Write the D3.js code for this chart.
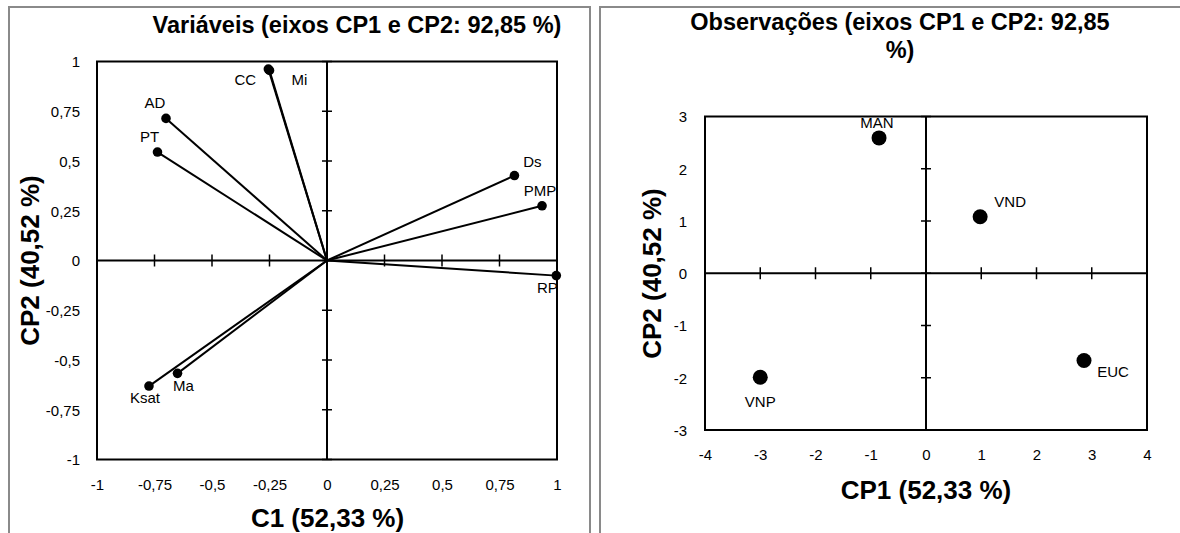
<!DOCTYPE html>
<html>
<head>
<meta charset="utf-8">
<script src="https://cdn.jsdelivr.net/npm/d3@7"></script>
<style>
  body { margin: 0; background: #fff; }
</style>
</head>
<body>
<script>
const WIDTH = 1180;
const HEIGHT = 533;

// variaveis: cargas em CP1 e CP2
const varNames = ["CC", "Mi", "AD", "PT", "Ds", "PMP", "RP", "Ksat", "Ma"];
const varCP1 = [-0.255, -0.25, -0.70, -0.737, 0.815, 0.935, 0.997, -0.774, -0.65];
const varCP2 = [0.962, 0.955, 0.714, 0.545, 0.427, 0.275, -0.076, -0.631, -0.567];

// observacoes: escores em CP1 e CP2
const obsNames = ["MAN", "VND", "EUC", "VNP"];
const obsCP1 = [-0.85, 0.98, 2.86, -3.0];
const obsCP2 = [2.59, 1.08, -1.67, -1.99];

const varTicks = [-1, -0.75, -0.5, -0.25, 0, 0.25, 0.5, 0.75, 1];
const obsTicksX = [-4, -3, -2, -1, 0, 1, 2, 3, 4];
const obsTicksY = [-3, -2, -1, 0, 1, 2, 3];

// where each point label sits, relative to its point (text baseline)
const varLabelOffset = {
    CC: [-23, 16], Mi: [30, 15], AD: [-11, -10], PT: [-8, -10], Ds: [18, -9],
    PMP: [-2, -10], RP: [-9, 17], Ksat: [-4, 17], Ma: [6, 18]
};
const obsLabelOffset = { MAN: [-2, -10], VND: [30, -10], EUC: [29, 16], VNP: [0, 30] };

const locale = d3.formatLocale({ decimal: ",", thousands: ".", grouping: [3], currency: ["", ""], minus: "-" });
const fmt = locale.format("~g");

const LABEL_FONT = "'Liberation Sans', Arial, sans-serif";

const svg = d3.select("body").append("svg")
    .attr("width", WIDTH)
    .attr("height", HEIGHT)
    .style("display", "block");

svg.append("rect").attr("width", WIDTH).attr("height", HEIGHT).attr("fill", "#fff");

function panel(o) {
    const g = svg.append("g");

    // chart frame (grey, runs off the picture at the bottom)
    g.append("rect")
        .attr("x", o.frame[0]).attr("y", o.frame[1])
        .attr("width", o.frame[2]).attr("height", o.frame[3])
        .attr("fill", "none").attr("stroke", "#8a8a8a").attr("stroke-width", 2);

    const x = d3.scaleLinear().domain(o.xDomain).range(o.xRange);
    const y = d3.scaleLinear().domain(o.yDomain).range(o.yRange);

    const clipId = "clip-" + o.id;
    g.append("clipPath").attr("id", clipId)
        .append("rect")
        .attr("x", o.xRange[0]).attr("y", o.yRange[1])
        .attr("width", o.xRange[1] - o.xRange[0])
        .attr("height", o.yRange[0] - o.yRange[1]);

    // plot box
    g.append("rect")
        .attr("x", o.xRange[0]).attr("y", o.yRange[1])
        .attr("width", o.xRange[1] - o.xRange[0])
        .attr("height", o.yRange[0] - o.yRange[1])
        .attr("fill", "none").attr("stroke", "#000").attr("stroke-width", 2);

    // axes through the origin
    g.append("line")
        .attr("x1", o.xRange[0]).attr("x2", o.xRange[1])
        .attr("y1", y(0)).attr("y2", y(0))
        .attr("stroke", "#000").attr("stroke-width", 2);
    g.append("line")
        .attr("x1", x(0)).attr("x2", x(0))
        .attr("y1", o.yRange[0]).attr("y2", o.yRange[1])
        .attr("stroke", "#000").attr("stroke-width", 2);

    // cross ticks on the origin axes
    g.append("g").selectAll("line").data(o.xTicks).join("line")
        .attr("x1", d => x(d)).attr("x2", d => x(d))
        .attr("y1", y(0) - 6).attr("y2", y(0) + 6)
        .attr("stroke", "#000").attr("stroke-width", 1.5);
    g.append("g").selectAll("line").data(o.yTicks).join("line")
        .attr("x1", x(0) - 5).attr("x2", x(0) + 5)
        .attr("y1", d => y(d)).attr("y2", d => y(d))
        .attr("stroke", "#000").attr("stroke-width", 1.5);

    // tick labels
    const ax = g.append("g")
        .attr("transform", `translate(0,${o.xLabelY})`)
        .call(d3.axisBottom(x).tickValues(o.xTicks).tickFormat(fmt).tickSize(0));
    ax.select(".domain").remove();
    ax.selectAll("text").attr("y", 0).attr("dy", 0);

    const ay = g.append("g")
        .attr("transform", `translate(${o.yLabelX},0)`)
        .call(d3.axisLeft(y).tickValues(o.yTicks).tickFormat(fmt).tickSize(0).tickPadding(0));
    ay.select(".domain").remove();
    ay.selectAll("text").attr("dy", "0.36em");

    [ax, ay].forEach(a => a.attr("font-family", LABEL_FONT).attr("font-size", 15)
        .selectAll("text").attr("fill", "#000"));

    // data
    const pts = o.names.map((n, i) => ({ name: n, cx: o.cx[i], cy: o.cy[i] }));

    if (o.vectors) {
        g.append("g").selectAll("line").data(pts).join("line")
            .attr("x1", x(0)).attr("y1", y(0))
            .attr("x2", d => x(d.cx)).attr("y2", d => y(d.cy))
            .attr("stroke", "#000").attr("stroke-width", 2);
    }

    g.append("g").selectAll("circle").data(pts).join("circle")
        .attr("cx", d => x(d.cx)).attr("cy", d => y(d.cy))
        .attr("r", o.r).attr("fill", "#000");

    g.append("g").attr("clip-path", `url(#${clipId})`)
        .selectAll("text").data(pts).join("text")
        .attr("x", d => x(d.cx) + o.offsets[d.name][0])
        .attr("y", d => y(d.cy) + o.offsets[d.name][1])
        .attr("text-anchor", "middle")
        .attr("font-family", LABEL_FONT).attr("font-size", 15)
        .text(d => d.name);

    // titles
    const title = g.append("text")
        .attr("text-anchor", "middle")
        .attr("font-family", "'Liberation Sans', Arial, sans-serif")
        .attr("font-weight", "bold").attr("font-size", 23.5);
    o.title.forEach((t, i) => {
        title.append("tspan").attr("x", o.titlePos[0]).attr("y", o.titlePos[1] + i * 28).text(t);
    });

    g.append("text")
        .attr("x", o.xTitlePos[0]).attr("y", o.xTitlePos[1])
        .attr("text-anchor", "middle")
        .attr("font-family", "'Liberation Sans', Arial, sans-serif")
        .attr("font-weight", "bold").attr("font-size", 26)
        .text(o.xTitle);

    g.append("text")
        .attr("transform", `translate(${o.yTitlePos[0]},${o.yTitlePos[1]}) rotate(-90)`)
        .attr("text-anchor", "middle")
        .attr("font-family", "'Liberation Sans', Arial, sans-serif")
        .attr("font-weight", "bold").attr("font-size", 26)
        .text(o.yTitle);
}

panel({
    id: "var",
    frame: [9, 7, 581, 600],
    xDomain: [-1, 1], xRange: [97, 557],
    yDomain: [-1, 1], yRange: [459.5, 61.5],
    xTicks: varTicks, yTicks: varTicks,
    xLabelY: 490, yLabelX: 80,
    names: varNames, cx: varCP1, cy: varCP2,
    vectors: true, r: 4.8, offsets: varLabelOffset,
    title: ["Variáveis (eixos CP1 e CP2: 92,85 %)"], titlePos: [357, 33],
    xTitle: "C1 (52,33 %)", xTitlePos: [327.5, 527],
    yTitle: "CP2 (40,52 %)", yTitlePos: [39, 260.5]
});

panel({
    id: "obs",
    frame: [600, 7, 700, 600],
    xDomain: [-4, 4], xRange: [705, 1147],
    yDomain: [-3, 3], yRange: [430, 116.5],
    xTicks: obsTicksX, yTicks: obsTicksY,
    xLabelY: 460, yLabelX: 687,
    names: obsNames, cx: obsCP1, cy: obsCP2,
    vectors: false, r: 7.5, offsets: obsLabelOffset,
    title: ["Observações (eixos CP1 e CP2: 92,85", "%)"], titlePos: [900, 30],
    xTitle: "CP1 (52,33 %)", xTitlePos: [926, 499],
    yTitle: "CP2 (40,52 %)", yTitlePos: [661, 273.5]
});
</script>
</body>
</html>
